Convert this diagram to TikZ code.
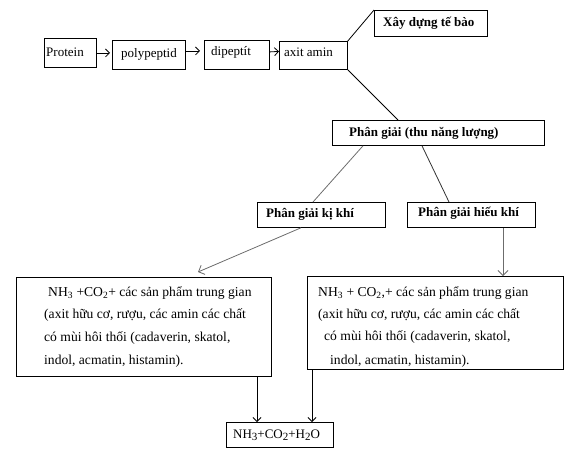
\documentclass[tikz,border=0pt]{standalone}
\usepackage{fontspec}
\setmainfont{Liberation Serif}
\usetikzlibrary{arrows.meta,calc}
\newcommand{\bigsub}[1]{\raisebox{-2.5pt}{\fontsize{11}{13}\selectfont #1}}
\begin{document}
\begin{tikzpicture}[x=1pt,y=-1pt,
  box/.style={draw=black,line width=0.8pt,anchor=north west,inner sep=0pt},
  txt/.style={anchor=west,inner sep=0pt,font=\fontsize{13}{15}\selectfont},
  ltxt/.style={anchor=west,inner sep=0pt,font=\fontsize{13.6}{15}\selectfont},
  btxt/.style={anchor=west,inner sep=0pt,font=\fontsize{13}{15}\selectfont\bfseries},
  conn/.style={line width=0.8pt},
  arr/.style={line width=0.8pt,-{Straight Barb[length=4pt,width=8pt]}},
  garr/.style={line width=0.8pt,draw=gray!85!black,-{Straight Barb[length=5pt,width=10pt]}}
]
\useasboundingbox (0,0) rectangle (571,448);
% boxes
\node[box,minimum width=52,minimum height=29] (protein) at (44,38) {};
\node[box,minimum width=73,minimum height=29] (poly) at (112,40) {};
\node[box,minimum width=65,minimum height=29] (dip) at (204,40) {};
\node[box,minimum width=68,minimum height=28] (axit) at (279,41) {};
\node[box,minimum width=113,minimum height=26] (xay) at (374,10) {};
\node[box,minimum width=212,minimum height=25] (phan) at (332,120) {};
\node[box,minimum width=128,minimum height=25] (ki) at (257,202) {};
\node[box,minimum width=128,minimum height=25] (hieu) at (407,202) {};
\node[box,minimum width=255,minimum height=99] (left) at (16,277) {};
\node[box,minimum width=256,minimum height=93] (right) at (307,276) {};
\node[box,minimum width=107,minimum height=25] (final) at (226,422) {};
% texts
\node[txt] (tprotein) at (46,52) {Protein};
\node[txt] (tpoly) at (121,54) {polypeptid};
\node[txt] (tdip) at (211,52) {dipeptít};
\node[txt] (taxit) at (284,52) {axit amin};
\node[btxt] (txay) at (383,23) {Xây dựng tế bào};
\node[btxt] (tphan) at (349,133) {Phân giải (thu năng lượng)};
\node[btxt] (tki) at (266,214) {Phân giải kị khí};
\node[btxt] (thieu) at (418,213) {Phân giải hiếu khí};
\node[ltxt] (tl1) at (48,293) {NH\textsubscript{3} +CO\textsubscript{2}+ các sản phẩm trung gian};
\node[ltxt] (tl2) at (44,315) {(axit hữu cơ, rượu, các amin các chất};
\node[ltxt] (tl3) at (44,338) {có mùi hôi thối (cadaverin, skatol,};
\node[ltxt] (tl4) at (44,361) {indol, acmatin, histamin).};
\node[ltxt] (tr1) at (318,293) {NH\textsubscript{3} + CO\textsubscript{2},+ các sản phẩm trung gian};
\node[ltxt] (tr2) at (318,315) {(axit hữu cơ, rượu, các amin các chất};
\node[ltxt] (tr3) at (324,337) {có mùi hôi thối (cadaverin, skatol,};
\node[ltxt] (tr4) at (330,361) {indol, acmatin, histamin).};
\node[txt] (tfinal) at (233,435) {NH\bigsub{3}+CO\bigsub{2}+H\bigsub{2}O};
% connectors
\draw[arr] (protein.east) -- ($(poly.west)+(-2,-2)$);
\draw[arr] ($(poly.east)+(0,-4)$) -- ($(dip.west)+(-4,-4)$);
\draw[arr] ($(dip.east)+(0,-3)$) -- ($(axit.west)+(0,-4)$);
\draw[conn] (axit.north east) -- (xay.north west);
\draw[conn] (axit.south east) -- ($(phan.north west)+(66,0)$);
\draw[conn,draw=gray!85!black] ($(phan.south west)+(31,0)$) -- ($(ki.north west)+(56,0)$);
\draw[conn,draw=black!80] ($(phan.south west)+(90,0)$) -- ($(hieu.north west)+(42,0)$);
\draw[garr] ($(ki.south west)+(44,0)$) -- ($(left.north west)+(182,-5)$);
\draw[garr] ($(hieu.south west)+(96,0)$) -- ($(right.north west)+(196,0)$);
\draw[arr] ($(left.south west)+(241,0)$) -- ($(final.north west)+(31,0)$);
\draw[arr] ($(right.south west)+(5,0)$) -- ($(final.north west)+(86,0)$);
\end{tikzpicture}
\end{document}
